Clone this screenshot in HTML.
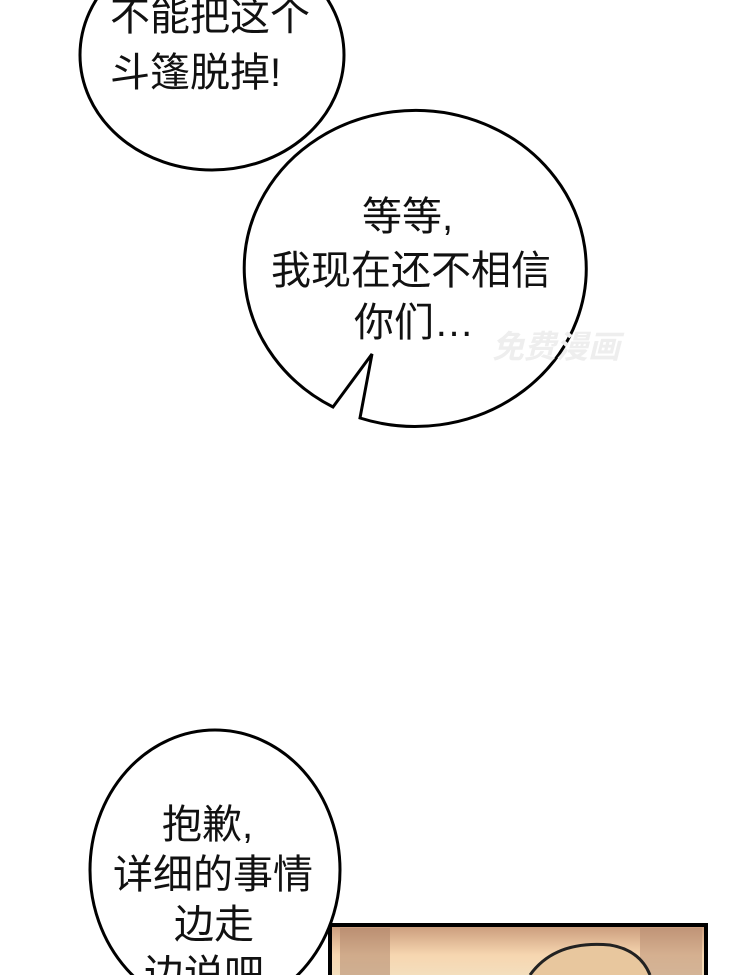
<!DOCTYPE html>
<html><head><meta charset="utf-8"><style>
html,body{margin:0;padding:0;background:#fff;}
body{width:740px;height:975px;overflow:hidden;position:relative;}
svg{position:absolute;left:0;top:0;}
text{font-family:"Liberation Sans","Noto Sans CJK SC",sans-serif;font-size:40px;fill:#111;}
</style></head><body>
<svg width="740" height="975" viewBox="0 0 740 975">
<defs>
<linearGradient id="g" x1="0" y1="0" x2="0" y2="1">
<stop offset="0" stop-color="#c99a7a"/>
<stop offset="0.5" stop-color="#f6d6b0"/>
<stop offset="1" stop-color="#f3e2c4"/>
</linearGradient>
</defs>
<rect x="330" y="925" width="376" height="60" fill="url(#g)" stroke="#000" stroke-width="4"/>
<rect x="340" y="928" width="50" height="50" fill="#a97f66" opacity="0.5"/>
<rect x="640" y="928" width="62" height="50" fill="#b38a70" opacity="0.5"/>
<path d="M530 975 Q555 940 610 945 Q640 950 650 975" fill="#e8c79e" stroke="#222" stroke-width="3"/>

<ellipse cx="212" cy="55" rx="132" ry="115" fill="#fff" stroke="#000" stroke-width="3"/>
<text x="110" y="30">不能把这个</text>
<text x="110" y="86">斗篷脱掉!</text>

<path d="M360 418 A171 158 0 1 0 333 407 L372 354 Z" fill="#fff" stroke="#000" stroke-width="3" stroke-linejoin="miter"/>
<text x="362" y="230">等等,</text>
<text x="271" y="284">我现在还不相信</text>
<text x="354" y="336">你们…</text>
<text x="492" y="358" style="font-size:32px;font-weight:bold;fill:#eee;font-style:italic">免费漫画</text>

<ellipse cx="215" cy="870" rx="125" ry="140" fill="#fff" stroke="#000" stroke-width="3"/>
<text x="162" y="838">抱歉,</text>
<text x="113" y="888">详细的事情</text>
<text x="174" y="938">边走</text>
<text x="144" y="988">边说吧</text>
</svg>
</body></html>
